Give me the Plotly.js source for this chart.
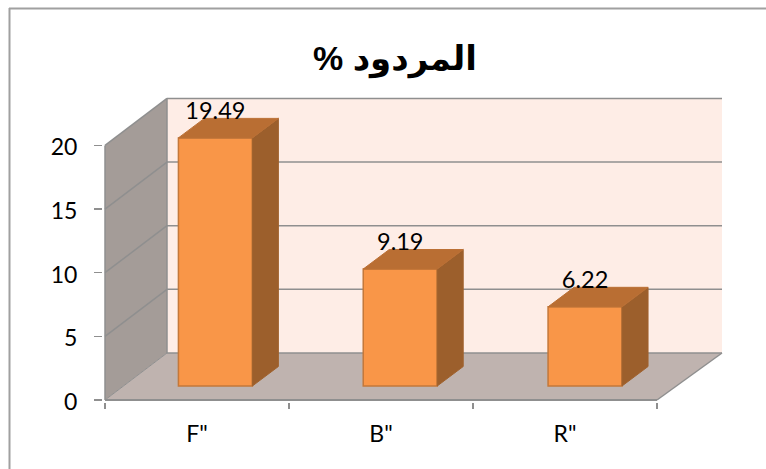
<!DOCTYPE html>
<html>
<head>
<meta charset="utf-8">
<script src="https://cdn.plot.ly/plotly-3.0.1.min.js"></script>
<style>html,body{margin:0;padding:0;background:#fff}</style>
</head>
<body>
<div id="chart" style="width:766px;height:469px"></div>
<script>
var categories = ['F"', 'B"', 'R"'];
var values = [19.49, 9.19, 6.22];
var valueLabels = ['19.49', '9.19', '6.22'];
var yTicks = [0, 5, 10, 15, 20];
var titleText = 'المردود %\u200f';

var W = 766, H = 469;
var M = {l: 103, r: 43, t: 97, b: 67};
var xUnit = 184, yUnit = 12.73;
var plotW = W - M.l - M.r, plotH = H - M.t - M.b;
var xStart = -2 / xUnit, yStart = -2 / yUnit;
var xRange = [xStart, xStart + plotW / xUnit];
var yRange = [yStart, yStart + plotH / yUnit];

var wallDx = 62 / xUnit, wallDy = 47 / yUnit, backRight = 3 + 65 / xUnit;
var barDx = 26 / xUnit, barDy = 19.5 / yUnit;
var barBase = 14 / yUnit, barWidth = 0.402, barShift = 0.6, barStep = 1.0045;
var yMax = yTicks[yTicks.length - 1];

var gridColor = '#8f8f8f';
function poly(pts, fill) {
  return {type: 'path', layer: 'below', xref: 'x', yref: 'y',
    path: 'M' + pts.map(function (p) { return p[0] + ',' + p[1]; }).join(' L') + ' Z',
    fillcolor: fill, line: {width: 0}};
}
function seg(x0, y0, x1, y1, w) {
  return {type: 'line', layer: 'below', xref: 'x', yref: 'y', x0: x0, y0: y0, x1: x1, y1: y1,
    line: {color: gridColor, width: w || 1.5}};
}
function pxX(p) { return (p - M.l) / plotW; }
function pxY(p) { return 1 - (p - M.t) / plotH; }

var shapes = [
  poly([[wallDx, wallDy], [backRight, wallDy], [backRight, yMax + wallDy], [wallDx, yMax + wallDy]], '#feede6'),
  poly([[0, 0], [wallDx, wallDy], [wallDx, yMax + wallDy], [0, yMax]], '#a49c98'),
  poly([[0, 0], [3, 0], [backRight, wallDy], [wallDx, wallDy]], '#bfb3af')
];
yTicks.forEach(function (v) {
  if (v > 0) shapes.push(seg(0, v, wallDx, v + wallDy));
  shapes.push(seg(wallDx, v + wallDy, backRight, v + wallDy));
});
shapes.push(seg(0, 0, 0, yMax));
shapes.push(seg(wallDx, wallDy, wallDx, yMax + wallDy));
shapes.push(seg(0, 0, wallDx, wallDy, 1));
shapes.push(seg(0, 0, 3, 0, 2));
shapes.push(seg(3, 0, backRight, wallDy));
shapes.push({type: 'line', xref: 'paper', yref: 'paper', x0: pxX(9), x1: pxX(766), y0: pxY(8.5), y1: pxY(8.5), line: {color: '#a0a0a0', width: 2}});
shapes.push({type: 'line', xref: 'paper', yref: 'paper', x0: pxX(9.5), x1: pxX(9.5), y0: pxY(8), y1: pxY(469), line: {color: '#a0a0a0', width: 2}});

var traces = [];
var centers = categories.map(function (c, i) { return i * barStep + barShift; });
traces.push({type: 'bar', x: centers, y: values, base: barBase, width: barWidth,
  marker: {color: '#f99648', line: {color: '#c4783a', width: 1.5}}, hoverinfo: 'skip'});

values.forEach(function (v, i) {
  var L = centers[i] - barWidth / 2, R = centers[i] + barWidth / 2;
  var T = barBase + v, B = barBase;
  traces.push({type: 'scatter', mode: 'lines', x: [R, R + barDx, R + barDx, R, R], y: [B, B + barDy, T + barDy, T, B],
    fill: 'toself', fillcolor: '#9c5f2c', line: {color: '#a0622e', width: 1}, hoverinfo: 'skip'});
  traces.push({type: 'scatter', mode: 'lines', x: [L, L + barDx, R + barDx, R, L], y: [T, T + barDy, T + barDy, T, T],
    fill: 'toself', fillcolor: '#b96e33', line: {color: '#bb7035', width: 1}, hoverinfo: 'skip'});
});

traces.push({type: 'scatter', mode: 'text', x: centers,
  y: values.map(function (v) { return barBase + v + 25 / yUnit; }),
  text: valueLabels, textposition: 'middle center', cliponaxis: false,
  textfont: {family: 'Lato, sans-serif', size: 23.5, color: '#000'}, hoverinfo: 'skip'});

var layout = {
  width: W, height: H, autosize: false, showlegend: false,
  paper_bgcolor: '#fff', plot_bgcolor: 'rgba(0,0,0,0)',
  margin: {l: M.l, r: M.r, t: M.t, b: M.b, pad: 0},
  title: {text: titleText, x: 395 / W, xanchor: 'center', y: 1 - 58 / H, yanchor: 'middle',
    font: {family: '"Liberation Sans", "DejaVu Sans", sans-serif', size: 34, color: '#000', weight: 700}},
  xaxis: {range: xRange, showgrid: false, zeroline: false, showline: false,
    tickmode: 'array', tickvals: [0.5, 1.5, 2.5], ticktext: categories, ticks: '',
    ticklabelstandoff: 16,
    tickfont: {family: 'Lato, sans-serif', size: 23, color: '#000'},
    minor: {tickmode: 'array', tickvals: [0, 1, 2, 3], ticks: 'outside', ticklen: 6, tickwidth: 1.5, tickcolor: gridColor, showgrid: false}},
  yaxis: {range: yRange, showgrid: false, zeroline: false, showline: false,
    tickmode: 'array', tickvals: yTicks, ticks: 'outside', ticklen: 8, tickwidth: 1.5, tickcolor: gridColor,
    ticklabelstandoff: 12, ticklabelshift: 2,
    tickfont: {family: 'Lato, sans-serif', size: 23, color: '#000'}},
  shapes: shapes
};
Plotly.newPlot('chart', traces, layout, {displayModeBar: false, staticPlot: true});
</script>
</body>
</html>
